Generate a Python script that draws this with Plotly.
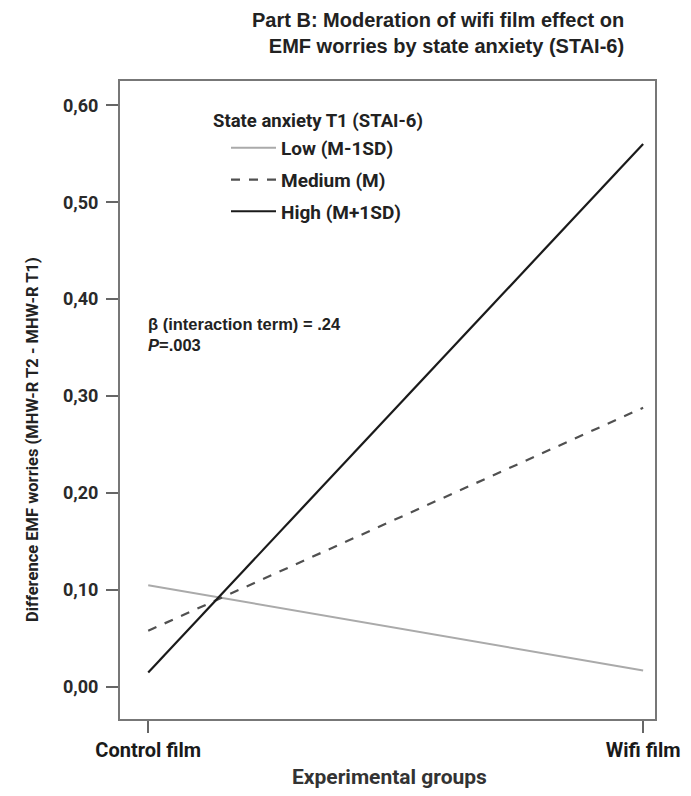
import plotly.graph_objects as go

groups = ["Control film", "Wifi film"]
low = [0.105, 0.017]
medium = [0.058, 0.288]
high = [0.015, 0.560]
series_names = ["Low (M-1SD)", "Medium (M)", "High (M+1SD)"]
y_ticks = [0.0, 0.1, 0.2, 0.3, 0.4, 0.5, 0.6]

NARROW = "Liberation Sans Narrow, Arial Narrow, Roboto, sans-serif"
SANS = "Liberation Sans, Arial, sans-serif"

# screen-pixel geometry of the plot frame in the reference
PX_L, PX_R, PX_T, PX_B = 120, 655, 81, 719
PW, PH = PX_R - PX_L, PX_B - PX_T


def fx(px):
    return (px - PX_L) / PW


def fy(py):
    return 1 - (py - PX_T) / PH


fig = go.Figure()
styles = [
    dict(color="#aaaaaa", width=2, dash="solid"),
    dict(color="#505050", width=2.2, dash="dash"),
    dict(color="#1a1a1a", width=2.2, dash="solid"),
]
for name, vals, st, g in zip(series_names, [low, medium, high], styles, ["a", "b", "c"]):
    fig.add_trace(go.Scatter(x=[0, 1], y=vals, mode="lines", name=name, line=st,
                             legendgroup=g))

# page body has an 8px margin, so figure is 8px smaller and offset
fig.update_layout(
    width=683, height=788,
    margin=dict(l=PX_L - 8, r=683 - (PX_R - 8), t=PX_T - 8, b=788 - (PX_B - 8), autoexpand=False),
    paper_bgcolor="white", plot_bgcolor="white",
    separators=",.",
    showlegend=True,
    legend=dict(x=fx(226), y=fy(129), xanchor="left", yanchor="top",
                bgcolor="rgba(0,0,0,0)", borderwidth=0, tracegroupgap=4,
                itemwidth=45,
                font=dict(family=NARROW, size=19, color="#222", weight="bold"),
                itemclick=False),
    xaxis=dict(range=[-0.057, 1.024], tickvals=[0, 1], ticktext=groups,
               automargin=False,
               showgrid=False, zeroline=False, showline=True, mirror=True,
               linecolor="#777", linewidth=2,
               ticks="outside", ticklen=12, tickcolor="#666", tickwidth=1.5,
               tickfont=dict(family=NARROW, size=20, color="#1a1a1a", weight="bold")),
    yaxis=dict(range=[-0.033, 0.625], tickvals=y_ticks, tickformat=".2f",
               automargin=False,
               showgrid=False, zeroline=False, showline=True, mirror=True,
               linecolor="#777", linewidth=2,
               ticks="outside", ticklen=12, tickcolor="#666", tickwidth=1.5,
               ticklabelstandoff=4,
               tickfont=dict(family=NARROW, size=18, color="#2a2a2a", weight="bold")),
)

fig.add_annotation(xref="paper", yref="paper", x=fx(438), y=fy(7),
                   xanchor="center", yanchor="top", showarrow=False, align="center",
                   text="<b>Part B: Moderation of wifi film effect on<br>   EMF worries by state anxiety (STAI-6)</b>",
                   font=dict(family=SANS, size=20, color="#222"))
fig.add_annotation(xref="paper", yref="paper", x=fx(211), y=fy(121),
                   xanchor="left", yanchor="middle", showarrow=False,
                   text="State anxiety T1 (STAI-6)",
                   font=dict(family=NARROW, size=18.5, color="#222", weight="bold"))
fig.add_annotation(xref="paper", yref="paper", x=fx(146), y=fy(313),
                   xanchor="left", yanchor="top", showarrow=False, align="left",
                   text="<b>β (interaction term) = .24<br><i>P</i>=.003</b>",
                   font=dict(family=SANS, size=16.5, color="#222"))
fig.add_annotation(xref="paper", yref="paper", x=fx(32), y=fy(440),
                   xanchor="center", yanchor="middle", showarrow=False, textangle=-90,
                   text="Difference EMF worries (MHW-R T2 - MHW-R T1)",
                   font=dict(family=NARROW, size=16.5, color="#222", weight="bold"))
fig.add_annotation(xref="paper", yref="paper", x=fx(389), y=fy(777),
                   xanchor="center", yanchor="middle", showarrow=False,
                   text="Experimental groups",
                   font=dict(family=NARROW, size=21, color="#333", weight="bold"))

fig.write_html("out.html")
